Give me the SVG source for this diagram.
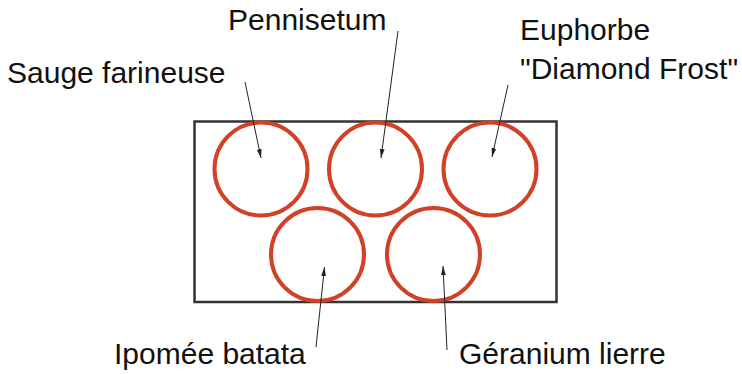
<svg xmlns="http://www.w3.org/2000/svg" width="742" height="374" viewBox="0 0 742 374">
<style>
.lbl{font-family:"Liberation Sans",Arial,sans-serif;font-size:30px;fill:#111}
.pot{fill:#fff;stroke:#333;stroke-width:2.5}
.plant{fill:none;stroke:#d04127;stroke-width:4}
.ptr{stroke:#222;stroke-width:1;fill:none;marker-end:url(#ah)}
</style>
<defs>
<marker id="ah" markerUnits="userSpaceOnUse" markerWidth="10" markerHeight="6" refX="9" refY="3" orient="auto">
<path d="M0,0.6 L9,3 L0,5.4 Z" fill="#222"/>
</marker>
</defs>
<rect class="pot" x="194.5" y="121.5" width="362" height="180.5"/>
<g id="sauge"><circle class="plant" cx="261" cy="169" r="46.5"/><text class="lbl" x="7" y="83">Sauge farineuse</text></g>
<g id="pennisetum"><circle class="plant" cx="375.5" cy="169" r="46.5"/><text class="lbl" x="228" y="30">Pennisetum</text></g>
<g id="euphorbe"><circle class="plant" cx="490" cy="169" r="46.5"/><text class="lbl" x="520" y="40">Euphorbe</text><text class="lbl" x="520" y="79">"Diamond Frost"</text></g>
<g id="ipomee"><circle class="plant" cx="317.5" cy="254.5" r="46.5"/><text class="lbl" x="114" y="364">Ipomée batata</text></g>
<g id="geranium"><circle class="plant" cx="433.5" cy="254.5" r="46.5"/><text class="lbl" x="459" y="364">Géranium lierre</text></g>
<g id="connectors">
<line class="ptr" x1="245" y1="82" x2="261" y2="158"/>
<line class="ptr" x1="398" y1="31" x2="381" y2="158"/>
<line class="ptr" x1="508" y1="85" x2="492" y2="157"/>
<line class="ptr" x1="316" y1="347" x2="324.5" y2="267"/>
<line class="ptr" x1="447" y1="350" x2="443" y2="266"/>
</g>
</svg>
